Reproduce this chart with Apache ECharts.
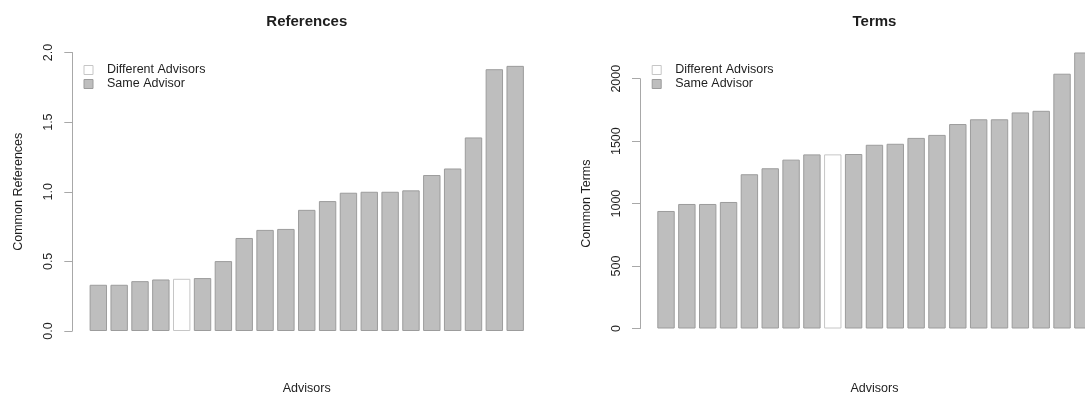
<!DOCTYPE html>
<html>
<head>
<meta charset="utf-8">
<script src="https://cdn.jsdelivr.net/npm/echarts@6/dist/echarts.min.js"></script>
<style>
  html, body { margin: 0; padding: 0; background: #ffffff; overflow: hidden; }
  #chart { width: 1085px; height: 394px; }
</style>
</head>
<body>
<div id="chart"></div>
<script>
// Advisors, sorted by the number of items they share
const advisors = ['1','2','3','4','5','6','7','8','9','10','11','12','13','14','15','16','17','18','19','20','21'];

// Common references per advisor pair
const refValues = [0.332, 0.332, 0.358, 0.370, 0.375, 0.380, 0.502, 0.668, 0.726, 0.733, 0.870,
                   0.933, 0.993, 1.000, 1.000, 1.010, 1.120, 1.167, 1.390, 1.880, 1.904];
const refGroups = ['S','S','S','S','D','S','S','S','S','S','S','S','S','S','S','S','S','S','S','S','S'];
const refTicks = [0, 0.5, 1, 1.5, 2];

// Common terms per advisor pair
const termValues = [941, 997, 997, 1013, 1235, 1283, 1352, 1394, 1394, 1397, 1471,
                    1479, 1526, 1550, 1637, 1675, 1675, 1730, 1743, 2040, 2210];
const termGroups = ['S','S','S','S','S','S','S','S','D','S','S','S','S','S','S','S','S','S','S','S','S'];
const termTicks = [0, 500, 1000, 1500, 2000];

const groupNames = { D: 'Different Advisors', S: 'Same Advisor' };

const FONT = '"Liberation Sans", Arial, Helvetica, sans-serif';
const TEXT = '#1e1e1e';
const AXIS = '#a8a8a8';

const styles = {
  D: { color: '#ffffff', borderColor: '#c6c6c6', borderWidth: 1 },
  S: { color: '#bebebe', borderColor: '#9c9c9c', borderWidth: 1 }
};

function pick(values, groups, g) {
  return values.map((v, i) => (groups[i] === g ? v : '-'));
}

function yAxisFor(ticks, name, idx, fmt) {
  return {
    type: 'value', gridIndex: idx,
    min: ticks[0], max: ticks[ticks.length - 1], interval: ticks[1] - ticks[0],
    offset: 15.6,
    name: name, nameLocation: 'middle', nameGap: 47,
    nameTextStyle: { fontFamily: FONT, fontSize: 12.5, color: TEXT },
    axisLine: { show: true, lineStyle: { color: AXIS, width: 1 } },
    axisTick: { show: true, length: 8, lineStyle: { color: AXIS, width: 1 } },
    axisLabel: { rotate: 90, margin: 17, fontFamily: FONT, fontSize: 12.5, color: TEXT, formatter: fmt },
    splitLine: { show: false }
  };
}

function xAxisFor(idx, gap) {
  return {
    type: 'category', gridIndex: idx, data: advisors,
    name: 'Advisors', nameLocation: 'middle', nameGap: gap,
    nameTextStyle: { fontFamily: FONT, fontSize: 12.5, color: TEXT },
    axisLine: { show: false }, axisTick: { show: false }, axisLabel: { show: false },
    splitLine: { show: false }
  };
}

function seriesFor(values, groups, idx, clip) {
  return ['D', 'S'].map(g => ({
    type: 'bar', name: groupNames[g],
    xAxisIndex: idx, yAxisIndex: idx,
    data: pick(values, groups, g),
    barWidth: 17.4, barGap: '-100%', clip: clip,
    itemStyle: styles[g],
    emphasis: { disabled: true }
  }));
}

function legendFor(left) {
  return {
    data: [groupNames.D, groupNames.S],
    orient: 'vertical', left: left, top: 63, padding: 0,
    icon: 'rect', itemWidth: 9, itemHeight: 9, itemGap: 0,
    itemStyle: { borderWidth: 1 },
    selectedMode: false,
    textStyle: { fontFamily: FONT, fontSize: 12.5, color: TEXT, lineHeight: 14, padding: [0, 0, 0, 9] }
  };
}

const chart = echarts.init(document.getElementById('chart'), null, { renderer: 'canvas' });
chart.setOption({
  animation: false,
  backgroundColor: '#ffffff',
  title: [
    { text: 'References', left: 306.8, top: 14, padding: 0, textAlign: 'center',
      textStyle: { fontFamily: FONT, fontSize: 15, fontWeight: 'bold', color: TEXT } },
    { text: 'Terms', left: 874.5, top: 14, padding: 0, textAlign: 'center',
      textStyle: { fontFamily: FONT, fontSize: 15, fontWeight: 'bold', color: TEXT } }
  ],
  legend: [legendFor(83.5), legendFor(651.7)],
  // the Terms panel runs past the right edge of the page, so the grids keep their own size
  grid: [
    { left: 87.9, top: 52.5, width: 437.7, height: 278.5, outerBoundsMode: 'none', containLabel: false },
    { left: 655.6, top: 78.7, width: 437.7, height: 249.8, outerBoundsMode: 'none', containLabel: false }
  ],
  xAxis: [xAxisFor(0, 51), xAxisFor(1, 53.5)],
  yAxis: [
    yAxisFor(refTicks, 'Common References', 0, v => v.toFixed(1)),
    yAxisFor(termTicks, 'Common Terms', 1, v => String(v))
  ],
  series: [
    ...seriesFor(refValues, refGroups, 0, true),
    ...seriesFor(termValues, termGroups, 1, false)
  ]
});
</script>
</body>
</html>
